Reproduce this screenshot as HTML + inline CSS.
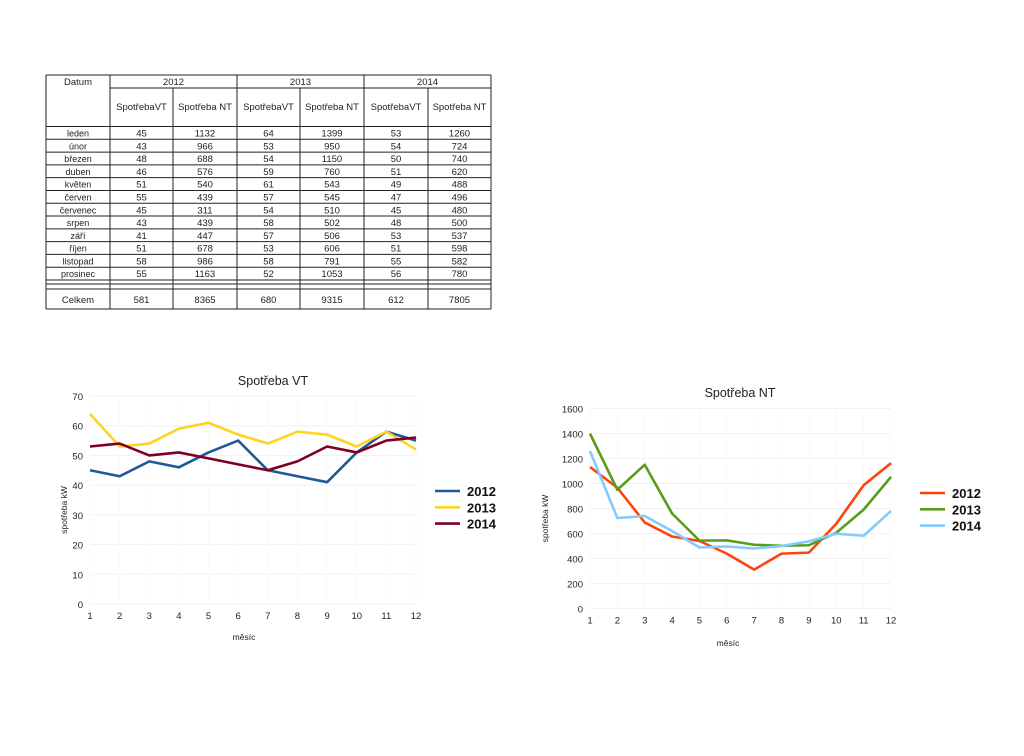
<!DOCTYPE html>
<html><head><meta charset="utf-8">
<style>
html,body{margin:0;padding:0;background:#fff;}
body{width:1024px;height:751px;overflow:hidden;}
svg text{font-family:"Liberation Sans",sans-serif;fill:#222;}
</style></head>
<body>
<svg id="s" width="1024" height="751" xmlns="http://www.w3.org/2000/svg"></svg>
<script>
const s=document.getElementById('s');let h='';
function L(x1,y1,x2,y2,c,w){h+=`<line x1="${x1}" y1="${y1}" x2="${x2}" y2="${y2}" stroke="${c}" stroke-width="${w}"/>`;}
function T(x,y,t,sz,anc,ex){h+=`<text x="${x}" y="${y}" font-size="${sz}" text-anchor="${anc||'middle'}" ${ex||''}>${t}</text>`;}
const cx=[46,110,173,237,300,364,428,491];
const months=['leden','únor','březen','duben','květen','červen','červenec','srpen','září','říjen','listopad','prosinec'];
const d=[[45,1132,64,1399,53,1260],[43,966,53,950,54,724],[48,688,54,1150,50,740],[46,576,59,760,51,620],[51,540,61,543,49,488],[55,439,57,545,47,496],[45,311,54,510,45,480],[43,439,58,502,48,500],[41,447,57,506,53,537],[51,678,53,606,51,598],[58,986,58,791,55,582],[55,1163,52,1053,56,780]];
const k='#222';
L(46,75,491,75,k,1);L(110,88,491,88,k,1);L(46,126.5,491,126.5,k,1);
const rh=(280-126.5)/12;
for(let i=1;i<=12;i++)L(46,126.5+i*rh,491,126.5+i*rh,k,1);
L(46,284,491,284,k,1);L(46,289,491,289,k,1);L(46,309,491,309,k,1);
cx.forEach((x,i)=>{ if(i==0||i==1||i==3||i==5||i==7)L(x,75,x,309,k,1); else L(x,88,x,309,k,1);});
T(78,85,'Datum',9.5);T(173.5,85,'2012',9.5);T(300.5,85,'2013',9.5);T(427.5,85,'2014',9.5);
const hd=['SpotřebaVT','Spotřeba NT','SpotřebaVT','Spotřeba NT','SpotřebaVT','Spotřeba NT'];
hd.forEach((t,i)=>T((cx[i+1]+cx[i+2])/2,110,t,9.5));
months.forEach((m,r)=>{const y=126.5+r*rh+10;T(78,y,m,9);d[r].forEach((v,i)=>T((cx[i+1]+cx[i+2])/2,y,v,9.5));});
const tot=[581,8365,680,9315,612,7805];
T(78,303,'Celkem',9.5);tot.forEach((v,i)=>T((cx[i+1]+cx[i+2])/2,303,v,9.5));
function chart(o){
 const {x0,x1,y0,y1,max,step,series,cols,title,tx,ty,lx,ly,ylx,xlx,xly,lblx}=o;
 const X=i=>x0+(x1-x0)*(i)/11, Y=v=>y0-(y0-y1)*v/max;
 for(let v=0;v<=max;v+=step){L(x0,Y(v),x1,Y(v),'#f0f0f0',1);T(lblx,Y(v)+4,v,9.5,'end');}
 for(let i=0;i<12;i++){L(X(i),y1,X(i),y0,'#f9f9f9',1);T(X(i),y0+15,i+1,9.5);}
 series.forEach((sr,j)=>{h+=`<polyline fill="none" stroke="${cols[j]}" stroke-width="2.6" stroke-linejoin="round" points="${sr.map((v,i)=>X(i)+','+Y(v)).join(' ')}"/>`;});
 T(tx,ty,title,12.5);
 ['2012','2013','2014'].forEach((t,j)=>{L(lx,ly+j*16.3,lx+25,ly+j*16.3,cols[j],2.6);T(lx+32,ly+j*16.3+5,t,13,'start','font-weight="bold" style="fill:#111"');});
 T(0,0,'spotřeba kW',8.5,'middle',`transform="translate(${ylx},${(y0+y1)/2+10}) rotate(-90)"`);
 T(xlx,xly,'měsíc',8.5);
}
chart({x0:90,x1:416,y0:604,y1:396,max:70,step:10,series:[d.map(r=>r[0]),d.map(r=>r[2]),d.map(r=>r[4])],cols:['#1f5a96','#ffd320','#7e0021'],title:'Spotřeba VT',tx:273,ty:385,lx:435,ly:491,ylx:67,xlx:244,xly:640,lblx:83});
chart({x0:590,x1:891,y0:608.5,y1:408.5,max:1600,step:200,series:[d.map(r=>r[1]),d.map(r=>r[3]),d.map(r=>r[5])],cols:['#ff420e','#579d1c','#83caff'],title:'Spotřeba NT',tx:740,ty:397,lx:920,ly:493,ylx:548,xlx:728,xly:646,lblx:583});
s.innerHTML=h;
</script>
</body></html>
